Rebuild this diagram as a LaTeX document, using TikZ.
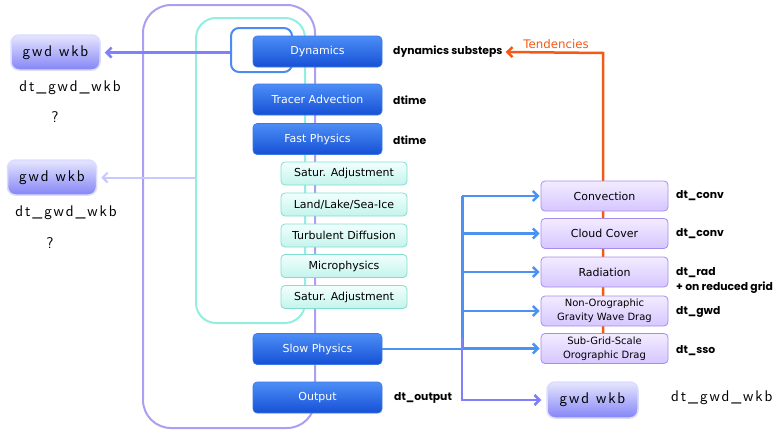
\documentclass[tikz,border=0pt]{standalone}
\usepackage{fontspec}
\setmainfont{DejaVu Sans}
\newfontfamily\labfont{Poppins}
\newfontfamily\gwdff[LetterSpace=12]{lmsans12-regular.otf}
\usetikzlibrary{arrows.meta,backgrounds}
\definecolor{bluetop}{HTML}{4C8EF6}
\definecolor{bluebot}{HTML}{1650D6}
\definecolor{bluebd}{HTML}{3A78E8}
\definecolor{tealtop}{HTML}{F2FFFD}
\definecolor{tealbot}{HTML}{C4F4EC}
\definecolor{tealbd}{HTML}{7EDFD0}
\definecolor{purptop}{HTML}{F3ECFF}
\definecolor{purpbot}{HTML}{D6C6FF}
\definecolor{purpbd}{HTML}{A68CF0}
\definecolor{gwdtop}{HTML}{E6E6FF}
\definecolor{gwdbot}{HTML}{8484F6}
\definecolor{gwdbd}{HTML}{DCDCFF}
\definecolor{outerc}{HTML}{AC9EF2}
\definecolor{tealline}{HTML}{94EEDF}
\definecolor{dynline}{HTML}{4A8CF0}
\definecolor{arrblue}{HTML}{4C92F2}
\definecolor{arrpurp}{HTML}{8080F8}
\definecolor{arrlight}{HTML}{C8C8FF}
\definecolor{orangec}{HTML}{F25A16}
\newcommand{\gwdfont}{\gwdff\fontsize{15.5}{17}\selectfont}
\newcommand{\us}{\char"5F}
\begin{document}
\begin{tikzpicture}[x=1pt,y=-1pt,
  bluebox/.style={draw=bluebd, line width=0.6pt, rounded corners=4pt, top color=bluetop, bottom color=bluebot, text=white, minimum width=129pt, minimum height=31pt, font=\fontsize{11}{13}\selectfont, inner sep=0pt},
  tealbox/.style={draw=tealbd, line width=0.8pt, rounded corners=4pt, top color=tealtop, bottom color=tealbot, minimum width=126pt, minimum height=23pt, font=\fontsize{11}{13}\selectfont, inner sep=0pt},
  purpbox/.style={draw=purpbd, line width=0.8pt, rounded corners=4pt, top color=purptop, bottom color=purpbot, minimum width=127pt, minimum height=30pt, font=\fontsize{11}{13}\selectfont, inner sep=0pt, align=center},
  purpsmall/.style={purpbox, font=\fontsize{10}{14}\selectfont},
  gwdbox/.style={draw=gwdbd, line width=1.5pt, rounded corners=8pt, top color=gwdtop, bottom color=gwdbot, minimum width=89pt, minimum height=35pt, inner sep=0pt, font=\gwdfont},
  frame/.style={line width=2pt, inner sep=0pt, fill=none},
  lab/.style={anchor=west, font=\labfont\bfseries\fontsize{10.8}{11}\selectfont, inner sep=0pt},
  gwdlab/.style={font=\gwdfont, inner sep=0pt},
  arr/.style={-{Straight Barb[length=5pt,width=10pt]}}
]
\useasboundingbox (0,0) rectangle (780,434);
% frames
\node[frame, draw=outerc, rounded corners=28pt, minimum width=172pt, minimum height=423pt] (outer) at (229,216.5) {};
\node[frame, draw=tealline, rounded corners=20pt, minimum width=109pt, minimum height=305pt] (tealframe) at (250.5,170.5) {};
\node[frame, draw=dynline, rounded corners=8pt, minimum width=61pt, minimum height=44pt] (dynframe) at (261.5,50) {};
% blue boxes
\node[bluebox] (dyn) at (317.5,51.5) {Dynamics};
\node[bluebox] (tracer) at (317.5,99.5) {Tracer Advection};
\node[bluebox] (fast) at (317.5,139) {Fast Physics};
\node[bluebox] (slow) at (317.5,349) {Slow Physics};
\node[bluebox] (output) at (317.5,397.5) {Output};
% teal boxes
\node[tealbox] (sat1) at (344,173.5) {Satur. Adjustment};
\node[tealbox] (land) at (344,204.5) {Land/Lake/Sea-Ice};
\node[tealbox] (turb) at (344,235.5) {Turbulent Diffusion};
\node[tealbox] (micro) at (344,266) {Microphysics};
\node[tealbox] (sat2) at (344,297) {Satur. Adjustment};
% purple boxes
\node[purpbox] (conv) at (604.5,196) {Convection};
\node[purpbox] (cloud) at (604.5,233.5) {Cloud Cover};
\node[purpbox] (rad) at (604.5,272) {Radiation};
\node[purpsmall] (nonoro) at (604.5,311) {Non-Orographic\\Gravity Wave Drag};
\node[purpsmall] (sso) at (604.5,348.5) {Sub-Grid-Scale\\Orographic Drag};
% gwd boxes
\node[gwdbox] (g1) at (55.5,52.5) {gwd wkb};
\node[gwdbox] (g2) at (52,177.5) {gwd wkb};
\node[gwdbox, minimum width=91pt, minimum height=36pt] (g3) at (592.5,400) {gwd wkb};
% labels
\node[lab] (subst) at (393,52) {dynamics substeps};
\node[lab] (dt1) at (393,100) {dtime};
\node[lab] (dt2) at (393,140) {dtime};
\node[lab] (dtout) at (394,398) {dt\_output};
\node[lab] (lconv) at (676,196) {dt\_conv};
\node[lab] (lcloud) at (676,234) {dt\_conv};
\node[lab] (lrad) at (676,273) {dt\_rad};
\node[lab] (lred) at (676,288) {+ on reduced grid};
\node[lab] (lgwd) at (676,312) {dt\_gwd};
\node[lab] (lsso) at (676,351) {dt\_sso};
\node[gwdlab, anchor=west] (l3) at (671,398) {dt\us gwd\us wkb};
\node[gwdlab] (l1) at (70,88) {dt\us gwd\us wkb};
\node[gwdlab] (q1) at (55,117) {?};
\node[gwdlab] (l2) at (66,213) {dt\us gwd\us wkb};
\node[gwdlab] (q2) at (50,243) {?};
\node[text=orangec, font=\fontsize{11.8}{13}\selectfont, inner sep=0pt] (tend) at (556,44) {Tendencies};
% orange tendencies
\begin{scope}[on background layer]
\draw[orangec, line width=2.5pt, arr, line join=miter] (sso.north -| 603,0) -- (603,53) -- ([xshift=3pt]subst.east);
\end{scope}
% left arrows
\draw[arrpurp, line width=2.5pt, arr] (g1.east -| dynframe.west) -- ([xshift=4pt]g1.east);
\draw[arrlight, line width=2pt, arr] (g2.east -| tealframe.west) -- ([xshift=4pt]g2.east);
% blue trunk
\coordinate (tr) at (462,0);
\draw[arrblue, line width=3pt] (tr |- conv.west) -- (tr |- slow.east);
\draw[arrblue, line width=2.5pt] (slow.east) -- (tr |- slow.east);
\foreach \b in {conv,cloud,rad,nonoro,sso}
  \draw[arrblue, line width=2.5pt, arr] (tr |- \b.west) -- ([xshift=-1pt]\b.west);
% purple to gwd
\coordinate (pstart) at (462,338);
\draw[arrpurp, line width=2.5pt, arr] (pstart) |- ([xshift=-5pt]g3.west);
\end{tikzpicture}
\end{document}
